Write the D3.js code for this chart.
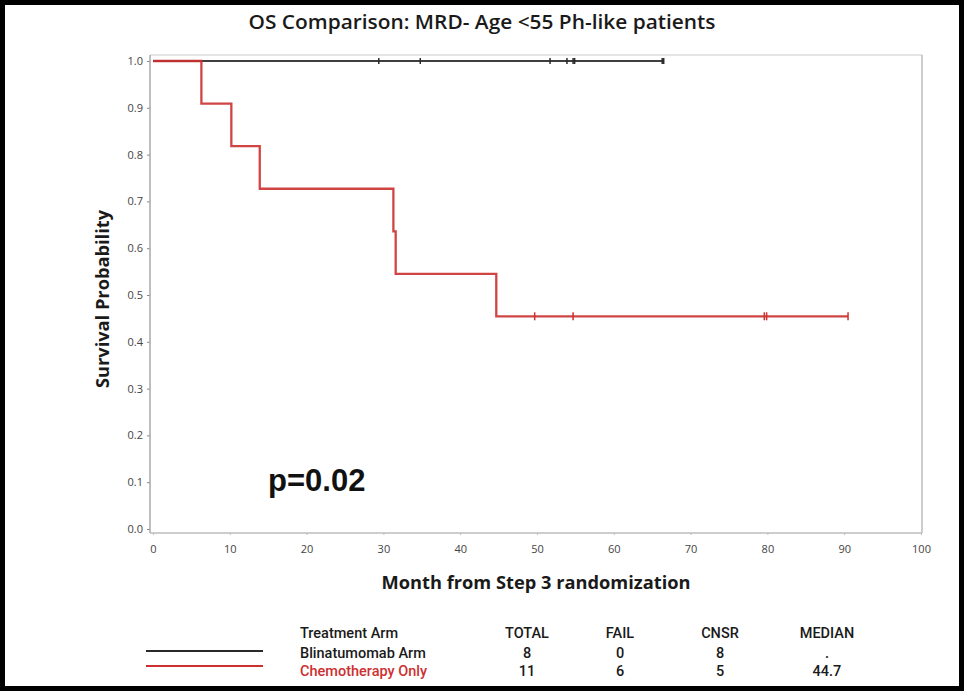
<!DOCTYPE html>
<html>
<head>
<meta charset="utf-8">
<script src="https://cdn.jsdelivr.net/npm/d3@7/dist/d3.min.js"></script>
<style>
  html, body { margin: 0; padding: 0; background: #fff; }
  svg { display: block; }
</style>
</head>
<body>
<svg id="chart" width="964" height="691"></svg>
<script>
// Kaplan-Meier step values (time in months, survival probability)
const blinaStepTimes = [0];
const blinaStepSurv = [1.0];
const blinaEndTime = 66.5;
const blinaCensorTimes = [29.4, 34.8, 51.7, 53.9, 54.7, 54.9, 66.3, 66.5];

const chemoStepTimes = [0, 6.3, 10.2, 13.9, 31.3, 31.6, 44.7];
const chemoStepSurv = [1.0, 0.909, 0.818, 0.727, 0.636, 0.545, 0.4545];
const chemoEndTime = 90.5;
const chemoCensorTimes = [49.7, 54.7, 79.6, 79.9, 90.5];

const xTicks = [0, 10, 20, 30, 40, 50, 60, 70, 80, 90, 100];
const yTicks = [0, 0.1, 0.2, 0.3, 0.4, 0.5, 0.6, 0.7, 0.8, 0.9, 1.0];

const tableHeaders = ["Treatment Arm", "TOTAL", "FAIL", "CNSR", "MEDIAN"];
const armNames = ["Blinatumomab Arm", "Chemotherapy Only"];
const armTotal = ["8", "11"];
const armFail = ["0", "6"];
const armCensored = ["8", "5"];
const armMedian = [".", "44.7"];
const armColors = ["#2a2a2a", "#cc3030"];

const titleText = "OS Comparison: MRD- Age <55 Ph-like patients";
const xLabelText = "Month from Step 3 randomization";
const yLabelText = "Survival Probability";
const pValueText = "p=0.02";

const svg = d3.select("#chart");

const x = d3.scaleLinear().domain([0, 100]).range([153, 921]);
const y = d3.scaleLinear().domain([0, 1]).range([529, 61]);

const frame = { left: 150, right: 922, top: 55, bottom: 533 };

// outer black border
svg.append("rect")
  .attr("x", 2.5).attr("y", 2.5)
  .attr("width", 959).attr("height", 686)
  .attr("fill", "#fff")
  .attr("stroke", "#000")
  .attr("stroke-width", 5);

// title
svg.append("text")
  .attr("x", 482).attr("y", 29)
  .attr("text-anchor", "middle")
  .attr("font-family", "'Open Sans', sans-serif")
  .attr("font-weight", 600)
  .attr("font-size", 20)
  .attr("textLength", 467)
  .attr("lengthAdjust", "spacingAndGlyphs")
  .attr("fill", "#1a1a1a")
  .text(titleText);

// plot frame: top and right light, left and bottom axis lines
svg.append("line")
  .attr("x1", frame.left).attr("x2", frame.right)
  .attr("y1", frame.top).attr("y2", frame.top)
  .attr("stroke", "#dcdcdc").attr("stroke-width", 1.5);
svg.append("line")
  .attr("x1", frame.right).attr("x2", frame.right)
  .attr("y1", frame.top).attr("y2", frame.bottom)
  .attr("stroke", "#bdbdbd").attr("stroke-width", 1.5);

// y axis
const yAxis = d3.axisLeft(y)
  .tickValues(yTicks)
  .tickFormat(d3.format(".1f"))
  .tickSize(3)
  .tickPadding(4);
const gy = svg.append("g")
  .attr("transform", `translate(${frame.left},0)`)
  .call(yAxis);
gy.select(".domain").remove();
gy.append("line")
  .attr("x1", 0).attr("x2", 0)
  .attr("y1", frame.top).attr("y2", frame.bottom)
  .attr("stroke", "#a8a8a8").attr("stroke-width", 1.5);
gy.selectAll(".tick line").attr("stroke", "#888");
gy.selectAll(".tick text")
  .attr("font-family", "'Open Sans', sans-serif")
  .attr("font-size", 11)
  .attr("fill", "#444");

// x axis
const xAxis = d3.axisBottom(x)
  .tickValues(xTicks)
  .tickFormat(d3.format("d"))
  .tickSize(2)
  .tickPadding(10);
const gx = svg.append("g")
  .attr("transform", `translate(0,${frame.bottom})`)
  .call(xAxis);
gx.select(".domain").remove();
gx.append("line")
  .attr("x1", frame.left).attr("x2", frame.right)
  .attr("y1", 0).attr("y2", 0)
  .attr("stroke", "#bdbdbd").attr("stroke-width", 1.5);
gx.selectAll(".tick line").attr("stroke", "#bbb");
gx.selectAll(".tick text")
  .attr("font-family", "'Open Sans', sans-serif")
  .attr("font-size", 11)
  .attr("fill", "#444");

// axis titles
svg.append("text")
  .attr("x", 536).attr("y", 589)
  .attr("text-anchor", "middle")
  .attr("font-family", "'Open Sans', sans-serif")
  .attr("font-weight", 700)
  .attr("font-size", 17.5)
  .attr("textLength", 309)
  .attr("lengthAdjust", "spacingAndGlyphs")
  .attr("fill", "#1a1a1a")
  .text(xLabelText);

svg.append("text")
  .attr("transform", "translate(109,299) rotate(-90)")
  .attr("text-anchor", "middle")
  .attr("font-family", "'Open Sans', sans-serif")
  .attr("font-weight", 700)
  .attr("font-size", 17.5)
  .attr("textLength", 178)
  .attr("lengthAdjust", "spacingAndGlyphs")
  .attr("fill", "#1a1a1a")
  .text(yLabelText);

// survival step curves
function stepPoints(times, surv, endTime) {
  const pts = times.map((t, i) => [t, surv[i]]);
  pts.push([endTime, surv[surv.length - 1]]);
  return pts;
}
function survAt(times, surv, t) {
  let s = surv[0];
  times.forEach((tt, i) => { if (tt <= t) s = surv[i]; });
  return s;
}
const stepLine = d3.line()
  .x(d => x(d[0]))
  .y(d => y(d[1]))
  .curve(d3.curveStepAfter);

const arms = [
  { times: blinaStepTimes, surv: blinaStepSurv, end: blinaEndTime, cens: blinaCensorTimes, color: armColors[0], tick: 3, width: 2 },
  { times: chemoStepTimes, surv: chemoStepSurv, end: chemoEndTime, cens: chemoCensorTimes, color: armColors[1], tick: 4, width: 2.3 }
];

arms.forEach(a => {
  svg.append("path")
    .datum(stepPoints(a.times, a.surv, a.end))
    .attr("d", stepLine)
    .attr("fill", "none")
    .attr("stroke", a.color)
    .attr("stroke-width", a.width)
    .attr("stroke-opacity", 0.9);
  svg.append("g")
    .selectAll("line")
    .data(a.cens)
    .join("line")
    .attr("x1", d => x(d)).attr("x2", d => x(d))
    .attr("y1", d => y(survAt(a.times, a.surv, d)) - a.tick)
    .attr("y2", d => y(survAt(a.times, a.surv, d)) + a.tick)
    .attr("stroke", a.color)
    .attr("stroke-width", 1.5);
});

// p-value annotation
svg.append("text")
  .attr("x", 268).attr("y", 491)
  .attr("font-family", "'Liberation Sans', Arial, sans-serif")
  .attr("font-weight", 700)
  .attr("font-size", 31)
  .attr("fill", "#111")
  .text(pValueText);

// legend table
const tableFont = "'Liberation Sans Narrow', 'Roboto', sans-serif";
const colX = [300, 527, 620, 720, 827];
const headerY = 638;
const rowY = [658, 676];
const legendLineY = [651, 666];

svg.append("g").selectAll("text")
  .data(tableHeaders)
  .join("text")
  .attr("x", (d, i) => colX[i])
  .attr("y", headerY)
  .attr("text-anchor", (d, i) => i === 0 ? "start" : "middle")
  .attr("font-family", tableFont)
  .attr("font-weight", 500)
  .attr("font-size", 14.5)
  .attr("fill", "#1a1a1a")
  .text(d => d);

armNames.forEach((name, r) => {
  const cells = [name, armTotal[r], armFail[r], armCensored[r], armMedian[r]];
  svg.append("g").selectAll("text")
    .data(cells)
    .join("text")
    .attr("x", (d, i) => colX[i])
    .attr("y", rowY[r])
    .attr("text-anchor", (d, i) => i === 0 ? "start" : "middle")
    .attr("font-family", tableFont)
    .attr("font-weight", 500)
    .attr("font-size", 14.5)
    .attr("fill", (d, i) => i === 0 && r === 1 ? armColors[1] : "#1a1a1a")
    .text(d => d);
  svg.append("line")
    .attr("x1", 146).attr("x2", 263)
    .attr("y1", legendLineY[r]).attr("y2", legendLineY[r])
    .attr("stroke", armColors[r])
    .attr("stroke-width", 2);
});
</script>
</body>
</html>
